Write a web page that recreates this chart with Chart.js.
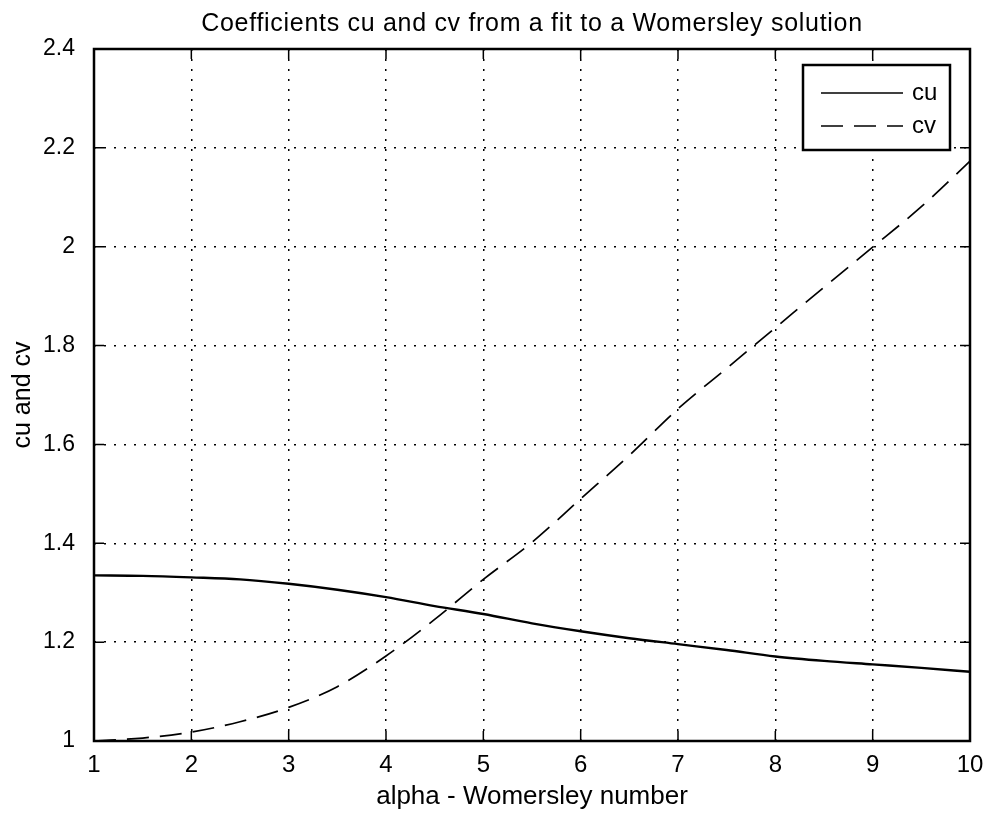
<!DOCTYPE html>
<html>
<head>
<meta charset="utf-8">
<script src="https://cdn.jsdelivr.net/npm/chart.js@4.4.1/dist/chart.umd.min.js"></script>
<style>
  html, body { margin: 0; padding: 0; background: #fff; }
  #wrap { width: 988px; height: 814px; }
</style>
</head>
<body>
<div id="wrap"><canvas id="c" width="988" height="814"></canvas></div>
<script>
// Womersley number samples and the fitted coefficients
const alpha = [1, 1.5, 2, 2.5, 3, 3.5, 4, 4.5, 5, 5.5, 6, 6.5, 7, 7.5, 8, 8.5, 9, 9.5, 10];
const cu = [1.335, 1.334, 1.331, 1.327, 1.318, 1.306, 1.291, 1.273, 1.257, 1.238, 1.222, 1.208, 1.196, 1.184, 1.171, 1.162, 1.155, 1.148, 1.140];
const cv = [1.000, 1.006, 1.018, 1.039, 1.068, 1.110, 1.172, 1.246, 1.327, 1.402, 1.490, 1.578, 1.672, 1.754, 1.836, 1.918, 1.999, 2.081, 2.173];

const xTicks = [1, 2, 3, 4, 5, 6, 7, 8, 9, 10];
const yTicks = [1, 1.2, 1.4, 1.6, 1.8, 2, 2.2, 2.4];

const titleText = 'Coefficients cu and cv from a fit to a Womersley solution';
const xTitle = 'alpha - Womersley number';
const yTitle = 'cu and cv';

const FONT = "'Liberation Sans', Arial, Helvetica, sans-serif";

const pts = (ys) => alpha.map((a, i) => ({ x: a, y: ys[i] }));

// Axes box, inward tick marks, title and the boxed legend
const framePlugin = {
  id: 'frame',
  afterDatasetsDraw(chart) {
    const { ctx, chartArea: a, scales } = chart;
    const xs = scales.x, ys = scales.y;
    ctx.save();
    ctx.strokeStyle = '#000';
    ctx.lineWidth = 1.5;
    const tl = 10;
    ctx.beginPath();
    xTicks.forEach(v => {
      const px = xs.getPixelForValue(v);
      ctx.moveTo(px, a.bottom); ctx.lineTo(px, a.bottom - tl);
      ctx.moveTo(px, a.top); ctx.lineTo(px, a.top + tl);
    });
    yTicks.forEach(v => {
      const py = ys.getPixelForValue(v);
      ctx.moveTo(a.left, py); ctx.lineTo(a.left + tl, py);
      ctx.moveTo(a.right, py); ctx.lineTo(a.right - tl, py);
    });
    ctx.stroke();
    ctx.lineWidth = 2.5;
    ctx.strokeRect(a.left, a.top, a.right - a.left, a.bottom - a.top);

    // title centred over the plot area
    ctx.fillStyle = '#000';
    ctx.font = `25px ${FONT}`;
    ctx.textAlign = 'center';
    ctx.textBaseline = 'middle';
    if ('letterSpacing' in ctx) ctx.letterSpacing = '0.7px';
    ctx.fillText(titleText, (a.left + a.right) / 2, 24);
    if ('letterSpacing' in ctx) ctx.letterSpacing = '0px';

    // legend
    const bw = 147, bh = 85;
    const bx = a.right - 20 - bw, by = a.top + 16;
    ctx.fillStyle = '#fff';
    ctx.fillRect(bx, by, bw, bh);
    ctx.lineWidth = 2.5;
    ctx.strokeStyle = '#000';
    ctx.strokeRect(bx, by, bw, bh);
    chart.data.datasets.forEach((ds, i) => {
      const ly = by + 28 + i * 33;
      ctx.save();
      ctx.lineWidth = Math.min(ds.borderWidth, 1.6);
      ctx.setLineDash(ds.borderDash || []);
      ctx.beginPath();
      ctx.moveTo(bx + 18, ly);
      ctx.lineTo(bx + 100, ly);
      ctx.stroke();
      ctx.restore();
      ctx.fillStyle = '#000';
      ctx.font = `24px ${FONT}`;
      ctx.textAlign = 'left';
      ctx.textBaseline = 'middle';
      ctx.fillText(ds.label, bx + 109, ly);
    });
    ctx.restore();
  }
};

new Chart(document.getElementById('c'), {
  type: 'line',
  data: {
    datasets: [
      { label: 'cu', data: pts(cu), borderColor: '#000', borderWidth: 2.4, pointRadius: 0,
        cubicInterpolationMode: 'monotone', fill: false },
      { label: 'cv', data: pts(cv), borderColor: '#000', borderWidth: 1.7, borderDash: [22, 11], pointRadius: 0,
        cubicInterpolationMode: 'monotone', fill: false }
    ]
  },
  options: {
    responsive: false,
    animation: false,
    devicePixelRatio: 1,
    layout: { padding: { left: 0, right: 18, top: 49, bottom: 0 } },
    plugins: {
      legend: { display: false },
      title: { display: false },
      tooltip: { enabled: false }
    },
    scales: {
      x: {
        type: 'linear', min: 1, max: 10,
        afterBuildTicks: (s) => { s.ticks = xTicks.map(v => ({ value: v })); },
        afterFit: (s) => { s.height = 73; s.paddingRight = 0; s.paddingLeft = 0; },
        grid: { color: '#000', lineWidth: 1.5, drawTicks: false },
        border: { display: false, dash: [2, 8] },
        ticks: { color: '#000', padding: 10, font: { family: FONT, size: 24 }, maxRotation: 0, autoSkip: false },
        title: { display: true, text: xTitle, color: '#000', font: { family: FONT, size: 26 }, padding: { top: 0, bottom: 2 } }
      },
      y: {
        type: 'linear', min: 1, max: 2.4,
        afterBuildTicks: (s) => { s.ticks = yTicks.map(v => ({ value: v })); },
        afterFit: (s) => { s.width = 94; },
        grid: { color: '#000', lineWidth: 1.5, drawTicks: false },
        border: { display: false, dash: [2, 8] },
        ticks: { color: '#000', padding: 19, font: { family: FONT, size: 23 }, autoSkip: false,
                 callback: (v) => String(Math.round(v * 10) / 10) },
        title: { display: true, text: yTitle, color: '#000', font: { family: FONT, size: 25 }, padding: { top: 8, bottom: 0 } }
      }
    }
  },
  plugins: [framePlugin]
});
</script>
</body>
</html>
